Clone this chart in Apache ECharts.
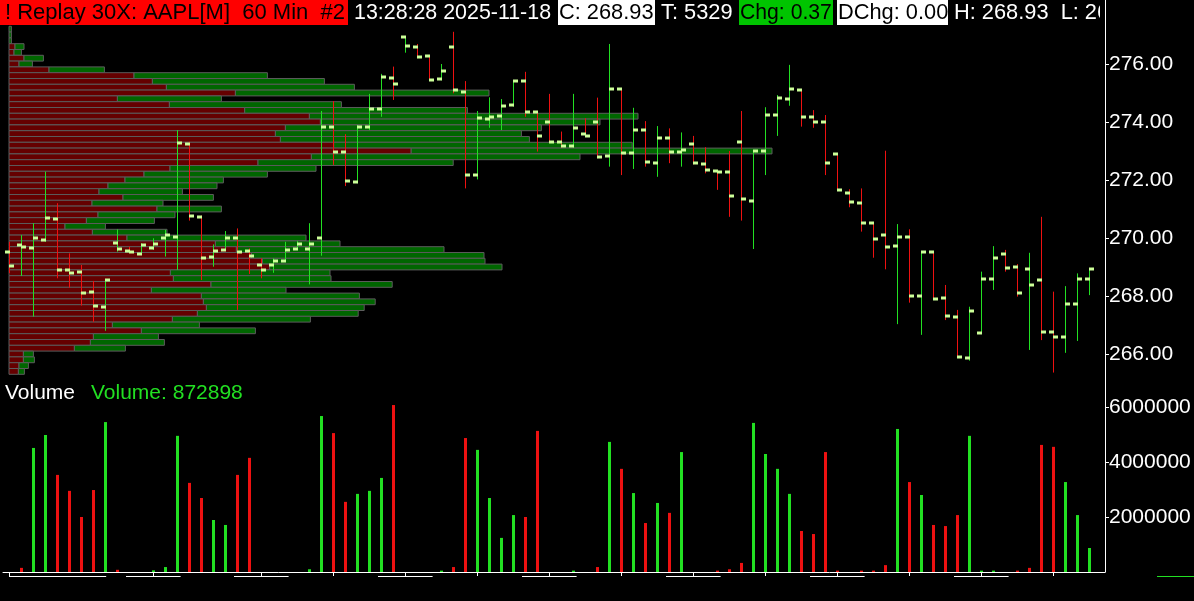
<!DOCTYPE html>
<html><head><meta charset="utf-8">
<script src="https://cdn.jsdelivr.net/npm/echarts@6/dist/echarts.min.js"></script>
<style>html,body{margin:0;padding:0;background:#000;overflow:hidden}#c{width:1194px;height:601px}</style>
</head><body><div id="c"></div>
<script>
// ---- 60-minute OHLC bars (index 0..90, left to right) ----
const opens = [269.51,269.75,269.64,269.92,270.64,268.89,268.82,268.13,267.61,269.82,
 269.54,269.44,269.64,269.99,270.02,273.23,270.71,269.33,269.58,269.99,
 269.54,269.06,269.06,269.20,269.61,269.61,269.99,273.82,272.96,271.92,
 273.82,274.44,275.51,276.92,276.58,276.27,275.47,276.58,275.02,272.16,
 274.09,274.20,274.58,275.40,274.33,273.99,273.30,273.16,273.58,273.99,
 272.82,275.13,272.92,273.71,272.58,273.44,272.96,273.23,272.54,272.30,
 272.27,273.30,271.27,272.99,274.23,274.78,275.09,274.16,273.99,272.89,
 271.54,271.20,270.51,270.09,269.71,270.02,267.99,269.51,267.92,267.28,
 265.85,266.71,268.59,269.45,268.99,268.92,268.55,266.75,266.58,267.71,
 268.59];
const highs = [269.87,270.10,270.51,272.29,271.20,269.47,269.07,268.52,268.58,270.30,
 269.70,269.82,269.99,270.28,273.72,273.32,270.77,269.78,270.24,270.33,
 269.64,269.30,269.30,269.87,269.90,270.51,274.38,274.72,273.58,273.90,
 274.97,275.66,275.91,276.95,276.69,276.29,276.00,277.11,275.41,274.38,
 274.85,274.79,275.42,275.73,274.36,274.97,273.67,274.97,274.13,274.84,
 276.69,275.16,274.49,274.03,273.86,273.78,273.64,273.52,273.13,272.32,
 273.00,274.38,273.03,274.51,274.93,275.97,275.10,274.41,274.24,272.91,
 271.68,271.71,270.53,273.01,270.48,270.30,269.53,269.53,268.38,267.52,
 267.63,268.84,269.72,269.59,269.10,269.49,270.73,268.15,268.34,268.78,
 268.95];
const lows = [268.79,268.69,267.29,269.87,268.61,268.29,267.67,267.11,266.80,269.53,
 269.50,269.42,269.59,269.36,268.90,270.60,268.55,269.01,269.56,267.52,
 268.76,268.61,268.80,269.18,269.59,268.40,269.39,272.52,271.79,271.89,
 273.72,274.18,274.76,276.39,276.20,275.42,275.44,274.99,271.71,272.02,
 273.80,273.72,274.53,274.18,272.98,273.28,273.11,273.11,273.49,272.75,
 272.46,272.17,272.38,272.46,272.11,272.58,272.46,272.54,272.23,271.66,
 270.73,270.60,269.62,272.17,273.52,274.56,273.84,273.80,272.17,271.62,
 271.06,270.22,269.32,268.92,267.03,267.77,266.66,267.88,267.17,265.87,
 265.77,266.69,268.21,268.84,267.98,266.14,266.48,265.36,266.04,266.45,
 268.03];
const closes = [269.02,269.68,269.99,270.68,268.89,268.78,268.09,267.64,268.54,269.61,
 269.52,269.75,269.78,270.09,273.27,270.75,269.30,269.54,269.99,269.51,
 269.37,268.89,269.20,269.58,269.78,269.78,273.82,272.96,271.96,273.82,
 274.44,275.54,275.30,276.61,276.23,275.44,275.75,275.09,272.16,274.13,
 274.16,274.54,275.40,274.33,273.51,273.30,273.16,273.78,273.51,272.78,
 275.13,272.92,273.71,272.61,273.44,272.96,273.02,272.58,272.33,272.29,
 271.44,271.33,272.99,274.23,274.82,275.13,274.16,273.99,272.58,271.64,
 271.23,270.51,269.96,269.68,270.02,267.99,269.51,267.90,267.30,265.89,
 267.47,268.59,269.30,268.96,268.09,268.37,266.75,266.58,267.71,268.59,
 268.93];
const volumes = [0,150000,4510000,4980000,3530000,2950000,2000000,2980000,5450000,80000,
 0,0,60000,180000,4950000,3240000,2690000,1890000,1710000,3530000,
 4150000,0,0,0,0,100000,5670000,5050000,2550000,2840000,
 2950000,3420000,6070000,0,0,0,50000,180000,4870000,4440000,
 2690000,1240000,2070000,2000000,5130000,0,0,50000,0,180000,
 4730000,3750000,2870000,1780000,2510000,2150000,4360000,0,0,50000,
 100000,330000,5420000,4290000,3750000,2840000,1490000,1380000,4360000,50000,
 0,50000,50000,250000,5200000,3270000,2800000,1710000,1670000,2070000,
 4950000,50000,50000,0,50000,150000,4620000,4550000,3270000,2070000,
 872898];

// ---- Volume profile (price rows, thousands of shares at bid / at ask) ----
const profilePrices = [277.2,277.0,276.8,276.6,276.4,276.2,276.0,275.8,275.6,275.4,
 275.2,275.0,274.8,274.6,274.4,274.2,274.0,273.8,273.6,273.4,
 273.2,273.0,272.8,272.6,272.4,272.2,272.0,271.8,271.6,271.4,
 271.2,271.0,270.8,270.6,270.4,270.2,270.0,269.8,269.6,269.4,
 269.2,269.0,268.8,268.6,268.4,268.2,268.0,267.8,267.6,267.4,
 267.2,267.0,266.8,266.6,266.4,266.2,266.0,265.8,265.6,265.4];
const profileBid = [0,0,0,60,50,150,100,400,1250,1434,
 1574,2264,1084,1604,2357,3004,3114,2764,2664,2714,
 3247,4022,3024,2490,1610,1350,1160,990,900,1140,
 830,1480,890,774,560,834,1180,2064,2274,2424,
 2534,2607,1614,1644,2020,1424,1924,1944,1974,1884,
 1634,1034,1324,844,814,654,144,144,100,94];
const profileAsk = [24,24,24,90,74,194,134,554,1334,1720,
 1880,2536,1040,1720,2227,3286,2796,2560,2460,2490,
 2985,3608,2686,1952,1460,1234,984,1090,834,904,
 710,644,770,680,404,746,1790,1246,2076,2326,
 2226,2323,1596,1576,1812,1346,1580,1718,1578,1608,
 1380,870,1140,650,740,510,100,110,94,60];

// ---- Axis ticks ----
const priceTicks = [266,268,270,272,274,276];
const volumeTicks = [2000000,4000000,6000000];
const timeTicks = [0,12,21,27,33,39,45,51,57,63,69,75,81,87];
const dateBrackets = [[0,8.1],[9.75,14.3],[18.75,23.3],[30.75,35.3],[42.75,47.3],[54.75,59.3],[66.75,71.3],[78.75,83.3]];

const FONT = "'Liberation Sans', Arial, sans-serif";
const UP = '#22e022', DN = '#ee1111', TICKC = '#ccff99';
const PMIN = 265.276, PMAX = 277.31;
const XMIN = -0.5, XMAX = 91.3333;

const priceData = opens.map((o, j) => {
  const prev = j === 0 ? o : closes[j - 1];
  return [j, o, highs[j], lows[j], closes[j], closes[j] >= prev ? 1 : 0];
});
const volData = volumes.map((v, j) => [j, v, closes[j] > opens[j] ? 1 : 0]);
const profData = profilePrices.map((p, k) => [p, profileBid[k], profileAsk[k]]);

const chart = echarts.init(document.getElementById('c'), null, {renderer: 'canvas'});
const F = s => s + "px " + FONT;
const txt = (x, y, s, fill, size) => ({type: 'text', x, y, z: 101, silent: true,
  style: {text: s, fill, font: F(size || 22), verticalAlign: 'middle'}});
const box = (x, w, fill) => ({type: 'rect', z: 100, silent: true, shape: {x, y: 0, width: w, height: 25}, style: {fill}});

chart.setOption({
  animation: false,
  backgroundColor: '#000',
  grid: [
    {left: 3, right: 89, top: 26, height: 349, outerBoundsMode: 'none'},
    {left: 9, right: 89, top: 26, height: 349, outerBoundsMode: 'none'},
    {left: 3, right: 89, top: 380, height: 192, outerBoundsMode: 'none'}
  ],
  xAxis: [
    {gridIndex: 0, type: 'value', min: XMIN, max: XMAX, show: false, axisLine: {onZero: false}},
    {gridIndex: 1, type: 'value', min: 0, max: 10960, show: false, axisLine: {onZero: false}},
    {gridIndex: 2, type: 'value', min: XMIN, max: XMAX, splitLine: {show: false},
      axisLine: {show: true, onZero: false, lineStyle: {color: '#fff', width: 1}},
      axisTick: {show: true, length: 4, customValues: timeTicks, lineStyle: {color: '#fff'}},
      axisLabel: {show: false}}
  ],
  yAxis: [
    {gridIndex: 0, type: 'value', position: 'right', min: PMIN, max: PMAX, splitLine: {show: false},
      axisLine: {show: true, onZero: false, lineStyle: {color: '#fff', width: 1}},
      axisTick: {show: true, length: 4, customValues: priceTicks, lineStyle: {color: '#fff'}},
      axisLabel: {customValues: priceTicks, formatter: v => v.toFixed(2), color: '#fff', fontSize: 21, fontFamily: FONT, margin: 4}},
    {gridIndex: 1, type: 'value', min: PMIN, max: PMAX, show: false, axisLine: {onZero: false}},
    {gridIndex: 2, type: 'value', position: 'right', min: 0, max: 6980000, splitLine: {show: false},
      axisLine: {show: true, onZero: false, lineStyle: {color: '#fff', width: 1}},
      axisTick: {show: true, length: 4, customValues: volumeTicks, lineStyle: {color: '#fff'}},
      axisLabel: {customValues: volumeTicks, formatter: v => String(v), color: '#fff', fontSize: 21, fontFamily: FONT, margin: 4}}
  ],
  series: [
    {
      type: 'custom', xAxisIndex: 1, yAxisIndex: 1, z: 1, data: profData, silent: true,
      renderItem(params, api) {
        const p = api.value(0), b = api.value(1), a = api.value(2);
        const top = api.coord([0, p + 0.1])[1], bot = api.coord([0, p - 0.1])[1];
        const x0 = api.coord([0, p])[0], xb = api.coord([b, p])[0], xa = api.coord([b + a, p])[0];
        const ch = [];
        if (b > 0) ch.push({type: 'rect', shape: {x: x0, y: top, width: xb - x0, height: bot - top},
          style: {fill: '#650000', stroke: '#5c5c5c', lineWidth: 1}});
        if (a > 0) ch.push({type: 'rect', shape: {x: xb, y: top, width: xa - xb, height: bot - top},
          style: {fill: '#006600', stroke: '#5c5c5c', lineWidth: 1}});
        return {type: 'group', children: ch};
      }
    },
    {
      type: 'custom', xAxisIndex: 0, yAxisIndex: 0, z: 3, data: priceData, silent: true,
      renderItem(params, api) {
        const j = api.value(0);
        const pH = api.coord([j, api.value(2)]), pL = api.coord([j, api.value(3)]);
        const pO = api.coord([j, api.value(1)]), pC = api.coord([j, api.value(4)]);
        const x = Math.round(pH[0]) + 0.5;
        return {type: 'group', children: [
          {type: 'line', shape: {x1: x, y1: pH[1], x2: x, y2: pL[1]}, style: {stroke: api.value(5) ? UP : DN, lineWidth: 1}},
          {type: 'rect', shape: {x: x - 4.5, y: Math.round(pO[1]) - 1.5, width: 5, height: 3}, style: {fill: TICKC}},
          {type: 'rect', shape: {x: x - 0.5, y: Math.round(pC[1]) - 1.5, width: 5, height: 3}, style: {fill: TICKC}}
        ]};
      },
      markLine: {
        silent: true, symbol: ['none', 'none'], animation: false,
        data: [{yAxis: closes[closes.length - 1]}],
        lineStyle: {opacity: 0},
        label: {show: true, position: 'end', distance: 1, formatter: closes[closes.length - 1].toFixed(2),
          color: '#000', backgroundColor: '#fff', fontSize: 21, fontFamily: FONT, padding: [2, 1, 0, 2]}
      }
    },
    {
      type: 'custom', xAxisIndex: 2, yAxisIndex: 2, z: 3, data: volData, silent: true,
      renderItem(params, api) {
        const j = api.value(0), v = api.value(1);
        if (!v) return;
        const p0 = api.coord([j, 0]), p1 = api.coord([j, v]);
        const x = Math.round(p0[0]);
        return {type: 'rect', shape: {x: x - 1, y: p1[1], width: 3, height: p0[1] - p1[1]}, style: {fill: api.value(2) ? UP : DN}};
      }
    },
    {
      type: 'custom', xAxisIndex: 2, yAxisIndex: 2, z: 3, data: dateBrackets, silent: true, clip: false,
      renderItem(params, api) {
        const a = api.coord([api.value(0), 0]), b = api.coord([api.value(1), 0]);
        const y = Math.round(a[1]) + 4.5;
        return {type: 'line', shape: {x1: a[0], y1: y, x2: b[0], y2: y}, style: {stroke: '#fff', lineWidth: 1}};
      }
    }
  ],
  graphic: [
    box(0, 348, '#ff0000'),
    txt(5, 13, '! Replay 30X: AAPL[M]  60 Min  #2', '#000', 22),
    txt(354, 13, '13:28:28 2025-11-18', '#fff', 21.4),
    box(558, 97, '#ffffff'),
    txt(559, 13, 'C: 268.93', '#000', 21.8),
    txt(661, 13, 'T: 5329', '#fff', 21.8),
    box(739, 94, '#00c400'),
    txt(740, 13, 'Chg: 0.37', '#000', 21.2),
    box(837, 111, '#ffffff'),
    txt(838, 13, 'DChg: 0.00', '#000', 21.8),
    txt(954, 13, 'H: 268.93  L: 268.03', '#fff', 21.8),
    {type: 'rect', z: 102, silent: true, shape: {x: 1100, y: 0, width: 94, height: 26}, style: {fill: '#000'}},
    {type: 'line', z: 103, silent: true, shape: {x1: 1105.5, y1: 0, x2: 1105.5, y2: 572}, style: {stroke: '#fff', lineWidth: 1}},
    txt(5, 393, 'Volume', '#fff', 21),
    txt(91, 393, 'Volume: 872898', UP, 21),
    {type: 'line', z: 100, silent: true, shape: {x1: 1157, y1: 576.5, x2: 1194, y2: 576.5}, style: {stroke: UP, lineWidth: 1}}
  ]
});
</script>
</body></html>
